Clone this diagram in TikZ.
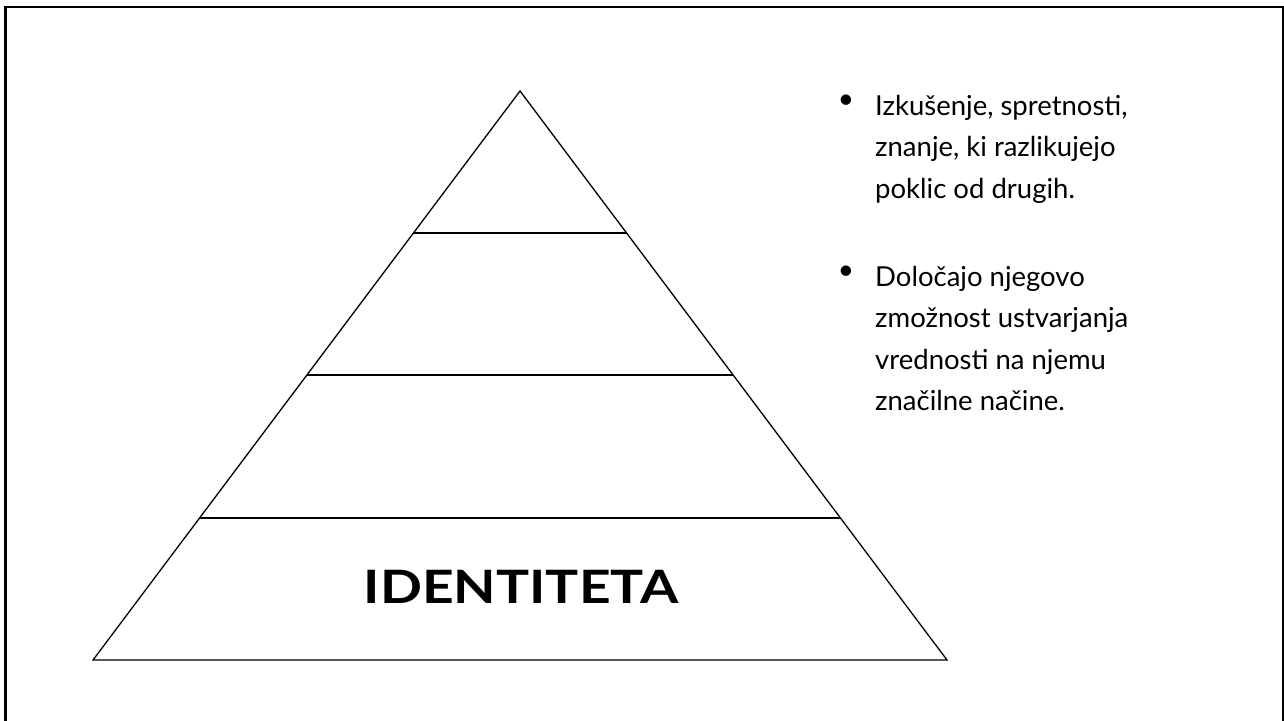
\documentclass[tikz,border=0pt]{standalone}
\usepackage{fontspec}
\setmainfont{Lato}
\usetikzlibrary{calc}
\usetikzlibrary{positioning}
\tikzstyle{frame}=[line width=2.6pt]
\tikzstyle{level}=[line width=1.3pt]
\tikzstyle{bul}=[inner sep=0,anchor=center,font=\fontsize{28}{32}\selectfont]
\tikzstyle{txt}=[inner sep=0,anchor=base west,align=left,
                font=\fontsize{27.5}{41.5}\selectfont]

\begin{document}
\begin{tikzpicture}[x=1pt,y=-1pt]
\useasboundingbox (0,0) rectangle (1284,720);
\draw[frame] (5.5,725) -- (5.5,7) -- (1283,7) -- (1283,725);
\coordinate (top) at (520,91);
\coordinate (bl) at (93,660);
\coordinate (br) at (947,660);
\draw[level] (top) -- (bl) -- (br) -- cycle;
\foreach \y in {233,375,518}
\draw[level] ($(top)!{(\y-91)/569}!(bl)$) -- ($(top)!{(\y-91)/569}!(br)$);
\node at (521,603)[anchor=base,inner sep=0,font=\bfseries\fontsize{46}{50}\selectfont]
  (id) {\scalebox{1.2}[1]{IDENTITETA}};
% last baseline of each bullet text
\node at (875,198)[txt] (t1) {Izkušenje, spretnosti,\\znanje, ki razlikujejo\\poklic od drugih.};
\node at (875,410.5)[txt] (t2) {Določajo njegovo\\zmožnost ustvarjanja\\vrednosti na njemu\\značilne načine.};
\node at (846,102)[bul] (b1) {•};
\node at (846,273)[bul] (b2) {•};
\end{tikzpicture}
\end{document}
